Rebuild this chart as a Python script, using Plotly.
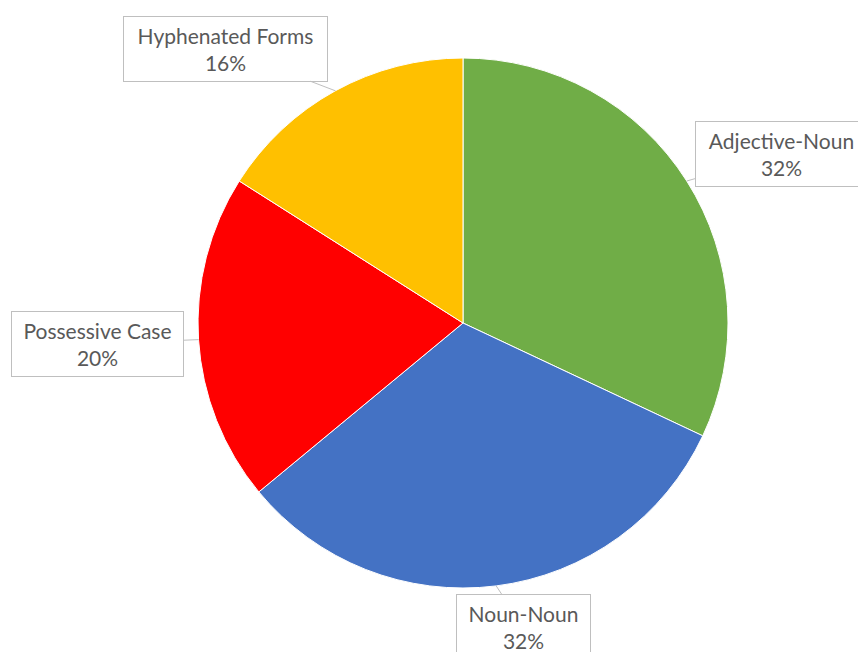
import math
import plotly.graph_objects as go

labels = ["Adjective-Noun", "Noun-Noun", "Possessive Case", "Hyphenated Forms"]
values = [32, 32, 20, 16]
colors = ["#70AD47", "#4472C4", "#FF0000", "#FFC000"]

W, H = 858, 652
cx, cy, R = 463, 323, 265

fig = go.Figure(go.Pie(
    labels=labels, values=values, sort=False, direction="clockwise", rotation=0,
    marker=dict(colors=colors, line=dict(color="white", width=1)),
    textinfo="none", hoverinfo="label+percent", showlegend=False,
    domain=dict(x=[(cx - R) / W, (cx + R) / W], y=[(H - cy - R) / H, (H - cy + R) / H]),
))

# box offsets (pixels) and sizes for callouts
offsets = {"Adjective-Noun": (95, -27, 171), "Noun-Noun": (27, 41, 133),
           "Possessive Case": (-101, 4, 171), "Hyphenated Forms": (-110, -42, 203)}
total = sum(values)
cum = 0
for lab, v in zip(labels, values):
    mid = (cum + v / 2) / total * 2 * math.pi
    cum += v
    tx = cx + R * math.sin(mid)
    ty = cy - R * math.cos(mid)
    ax, ay, bw = offsets[lab]
    fig.add_annotation(
        x=tx / W, y=1 - ty / H, xref="paper", yref="paper",
        text=f"{lab}<br>{round(v / total * 100)}%",
        showarrow=True, arrowhead=0, arrowwidth=1, arrowcolor="#BFBFBF",
        ax=ax, ay=ay, axref="pixel", ayref="pixel",
        bordercolor="#BFBFBF", borderwidth=1, borderpad=0, bgcolor="white",
        width=bw, height=64, align="center",
        font=dict(family="Lato, Carlito, sans-serif", size=21, color="#595959"),
    )

fig.update_layout(width=W, height=H, margin=dict(l=0, r=0, t=0, b=0),
                  paper_bgcolor="white", plot_bgcolor="white")
fig.write_html("out.html", post_script="document.body.style.margin='0';",
               config={"displayModeBar": False})
